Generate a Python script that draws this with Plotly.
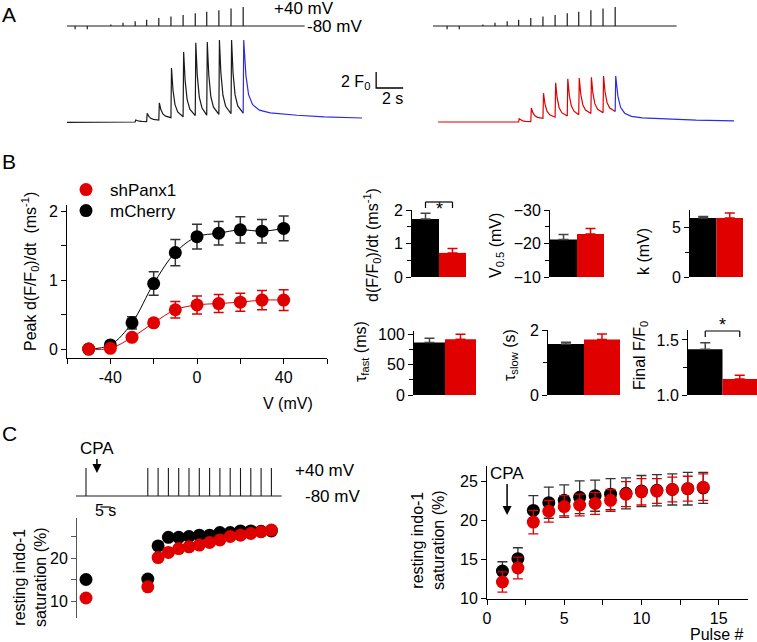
import plotly.graph_objects as go

W, H = 757, 642
FONT = "Liberation Sans, Arial, sans-serif"
BLACK = "#000000"
RED = "#e00000"
BLUE = "#2b2be8"
DARK = "#1a1a1a"

### A: pulse protocol (s, mV) and fluo-4 traces (F/F0)
pulse_t = [0.6, 1.5, 3.25, 4.15, 5.05, 5.9, 6.8, 7.7, 8.6, 9.5, 10.35, 11.25, 12.15, 13.05]
pulse_mv = [-100, -100, -70, -60, -50, -40, -30, -20, -10, 0, 10, 20, 30, 40]
hold_mv = -80
volt_end = 17.6

ctl_first = 4
ctl_peak = [1.25, 2.1, 3.4, 7.75, 9.75, 10.9, 11.0, 11.25, 11.25, 11.25]
ctl_base = [1.0, 1.05, 1.25, 1.55, 1.65, 1.8, 1.85, 1.95, 2.05, 2.1]
ctl_end = 1.5
kd_first = 5
kd_peak = [1.4, 2.75, 4.6, 5.9, 6.4, 6.5, 6.6, 6.75, 6.75]
kd_base = [1.0, 1.05, 1.45, 1.6, 1.75, 1.9, 2.05, 2.15, 2.3]
kd_end = 1.15

# decay of a transient (s after pulse, fraction left)
spike_dt = [0.04, 0.15, 0.3, 0.5]
spike_frac = [1.0, 0.55, 0.25, 0.1]
tail_dt = [0.04, 0.2, 0.4, 0.7, 1.2, 2.0, 4.0, 6.0, 8.8]
tail_frac = [1.0, 0.55, 0.3, 0.17, 0.1, 0.065, 0.035, 0.015, 0.0]

### B: peak d(F/F0)/dt vs V
volts = [-50, -40, -30, -20, -10, 0, 10, 20, 30, 40]
rate_ctl = [0.0, 0.06, 0.38, 0.95, 1.40, 1.63, 1.68, 1.73, 1.71, 1.75]
rate_ctl_err = [0.02, 0.03, 0.09, 0.17, 0.19, 0.18, 0.17, 0.19, 0.17, 0.18]
rate_kd = [0.0, 0.01, 0.17, 0.38, 0.57, 0.64, 0.66, 0.68, 0.71, 0.71]
rate_kd_err = [0.01, 0.02, 0.04, 0.05, 0.12, 0.13, 0.13, 0.13, 0.14, 0.15]

# bar summaries [mCherry, shPanx1]
peak_rate = [1.73, 0.72]
peak_rate_err = [0.17, 0.13]
v_half = [-21.2, -22.8]
v_half_err = [1.5, 1.7]
k_slope = [5.9, 5.9]
k_slope_err = [0.15, 0.5]
tau_fast = [87, 92.5]
tau_fast_err = [7, 8]
tau_slow = [1.57, 1.71]
tau_slow_err = [0.05, 0.17]
final_ff0 = [1.415, 1.145]
final_ff0_err = [0.06, 0.035]

### C: resting indo-1 saturation
c_time = [0, 30, 35, 40, 45, 50, 55, 60, 65, 70, 75, 80, 85, 90]
c_ctl = [15.0, 15.1, 22.8, 24.8, 24.8, 25.0, 25.3, 25.3, 25.9, 25.9, 26.3, 26.3, 26.2, 26.3]
c_kd = [10.7, 13.3, 20.1, 21.3, 22.2, 22.6, 23.0, 23.6, 24.2, 25.0, 25.3, 25.7, 26.1, 26.5]
cpa_time = 5.3
pulse_n = list(range(1, 15))
sat_ctl = [13.5, 15.1, 21.3, 22.3, 22.6, 23.0, 23.2, 23.4, 23.5, 23.8, 23.9, 24.0, 24.1, 24.2]
sat_ctl_err = [1.2, 1.4, 1.9, 2.0, 2.0, 2.1, 2.0, 2.0, 2.0, 2.0, 2.0, 2.0, 2.1, 2.0]
sat_kd = [12.1, 13.9, 19.8, 21.2, 21.8, 22.0, 22.2, 22.6, 23.4, 23.7, 23.8, 24.0, 24.1, 24.3]
sat_kd_err = [1.3, 1.4, 1.5, 1.4, 1.4, 1.4, 1.4, 1.4, 1.6, 1.7, 1.6, 1.6, 1.6, 1.7]
cpa_pulse = 1.3


def pdx(px):
    return px / W


def pdy(py):
    return 1 - py / H


layout = dict(template="none", width=W, height=H, margin=dict(l=0, r=0, t=0, b=0, pad=0),
              paper_bgcolor="white", plot_bgcolor="rgba(0,0,0,0)",
              font=dict(family=FONT, size=16, color="black"))
annotations = []
shapes = []
fig = go.Figure()


def refs(n):
    return ("x", "y") if n == 1 else ("x%d" % n, "y%d" % n)


def add_axes(n, x0, x1, y0, y1, xkw, ykw):
    xr, yr = refs(n)
    xa = dict(domain=[pdx(x0), pdx(x1)], anchor=yr, showgrid=False, zeroline=False, automargin=False)
    ya = dict(domain=[pdy(y1), pdy(y0)], anchor=xr, showgrid=False, zeroline=False, automargin=False)
    xa.update(xkw)
    ya.update(ykw)
    layout["xaxis" if n == 1 else "xaxis%d" % n] = xa
    layout["yaxis" if n == 1 else "yaxis%d" % n] = ya


def axis_line(**kw):
    d = dict(visible=True, showline=True, linecolor="black", linewidth=1,
             ticks="outside", ticklen=5, tickcolor="black", tickwidth=1,
             tickfont=dict(size=16, family=FONT, color="black"))
    d.update(kw)
    return d


def txt(x, y, s, size=16, xanchor="center", angle=0, color="black"):
    annotations.append(dict(x=pdx(x), y=pdy(y), xref="paper", yref="paper", text=s,
                            showarrow=False, xanchor=xanchor, yanchor="middle",
                            textangle=angle, font=dict(size=size, family=FONT, color=color)))


def volt_xy(t_start):
    xs = [t_start, volt_end, None]
    ys = [hold_mv, hold_mv, None]
    for t, v in zip(pulse_t, pulse_mv):
        xs += [t, t, None]
        ys += [hold_mv, v, None]
    return xs, ys


def fluo_xy(t_start, y_start, first, peaks, bases, end):
    xs, ys = [t_start], [y_start]
    for i, pk in enumerate(peaks):
        t0 = pulse_t[first + i]
        xs.append(t0)
        ys.append(bases[i])
        if i + 1 < len(peaks):
            nxt = bases[i + 1]
            for dt, f in zip(spike_dt, spike_frac):
                xs.append(t0 + dt)
                ys.append(nxt + f * (pk - nxt))
    t0 = pulse_t[first + len(peaks) - 1]
    tx = [t0] + [t0 + dt for dt in tail_dt]
    ty = [bases[-1]] + [end + f * (peaks[-1] - end) for f in tail_frac]
    return xs, ys, tx, ty


### ---- A
hidden = dict(visible=False)
t_rng_left = [(61 - 67) / 13.5, (410 - 67) / 13.5]
t_rng_right = [(61 - 67) / 13.5, (757 - 372 - 67) / 13.5]
add_axes(1, 61, 410, 5, 31, dict(hidden, range=t_rng_left), dict(hidden, range=[-111.6, 52.6]))
add_axes(2, 61, 410, 35, 128, dict(hidden, range=t_rng_left), dict(hidden, range=[0.25, 11.875]))
add_axes(3, 433, 757, 5, 31, dict(hidden, range=t_rng_right), dict(hidden, range=[-111.6, 52.6]))
add_axes(4, 433, 757, 35, 128, dict(hidden, range=t_rng_right), dict(hidden, range=[0.25, 11.875]))

for n, t_start in [(1, 0.0), (3, -0.444)]:
    xr, yr = refs(n)
    vx, vy = volt_xy(t_start)
    fig.add_trace(go.Scatter(x=vx, y=vy, mode="lines", line=dict(color=DARK, width=1.2),
                             xaxis=xr, yaxis=yr, showlegend=False, hoverinfo="skip"))

for n, col, args in [(2, DARK, (0.0, 0.95, ctl_first, ctl_peak, ctl_base, ctl_end)),
                     (4, RED, (-0.07, 1.0, kd_first, kd_peak, kd_base, kd_end))]:
    xr, yr = refs(n)
    fx, fy, tx, ty = fluo_xy(*args)
    fig.add_trace(go.Scatter(x=fx, y=fy, mode="lines", line=dict(color=col, width=1.2),
                             xaxis=xr, yaxis=yr, showlegend=False, hoverinfo="skip"))
    fig.add_trace(go.Scatter(x=tx, y=ty, mode="lines", line=dict(color=BLUE, width=1.2),
                             xaxis=xr, yaxis=yr, showlegend=False, hoverinfo="skip"))

# scale bar: 2 F0 / 2 s
bar_t0, bar_f0 = 22.9, 5.25
fig.add_trace(go.Scatter(x=[bar_t0, bar_t0, bar_t0 + 2], y=[bar_f0 + 2, bar_f0, bar_f0],
                         mode="lines", line=dict(color="black", width=1.3),
                         xaxis="x2", yaxis="y2", showlegend=False, hoverinfo="skip"))
txt(372, 82, "2 F<sub>0</sub>", 16, "right")
txt(393, 99, "2 s", 16)
txt(272, 9, "+40 mV", 17, "left")
txt(305, 26, "-80 mV", 17, "left")
txt(0, 15, "A", 21, "left")

### ---- B
add_axes(5, 67, 327, 205, 358,
         axis_line(range=[-60, 60], tickvals=[-40, 0, 40], ticktext=["-40", "0", "40"],
                   minor=dict(tick0=-60, dtick=20, ticks="outside", ticklen=5, tickcolor="black")),
         axis_line(range=[-0.13, 2.09], tickvals=[0, 1, 2],
                   minor=dict(tick0=0, dtick=0.5, ticks="outside", ticklen=5, tickcolor="black")))
for vals, errs, col, ecol, name, lg in [(rate_ctl, rate_ctl_err, BLACK, "#333333", "mCherry", "legend2"),
                                        (rate_kd, rate_kd_err, RED, RED, "shPanx1", "legend")]:
    fig.add_trace(go.Scatter(x=volts, y=vals, mode="lines", line=dict(color=col, width=1, shape="spline"),
                             xaxis="x5", yaxis="y5", showlegend=False, hoverinfo="skip"))
    fig.add_trace(go.Scatter(x=volts, y=vals, mode="markers", name=name, legend=lg,
                             marker=dict(color=col, size=13),
                             error_y=dict(type="data", array=errs, color=ecol, thickness=1.5, width=5),
                             xaxis="x5", yaxis="y5", cliponaxis=False))
leg = dict(xanchor="left", yanchor="middle", font=dict(size=17, family=FONT),
           bgcolor="rgba(0,0,0,0)", itemwidth=38, itemsizing="trace")
layout["legend"] = dict(leg, x=pdx(62), y=pdy(190))
layout["legend2"] = dict(leg, x=pdx(62), y=pdy(211))
layout["showlegend"] = True
txt(30, 272, "Peak d(F/F<sub>0</sub>)/dt  (ms<sup>-1</sup>)", 16, angle=-90)
txt(288, 403, "V (mV)", 16)
txt(0, 162, "B", 21, "left")

### ---- B bar summaries
bar_x = [0, 1]
bar_cols = [BLACK, RED]
err_cols = ["#444444", RED]
panels = [
    (6, (412, 466, 210, 277), peak_rate, peak_rate_err, dict(range=[0, 2], tickvals=[0, 1, 2],
     minor=dict(dtick=0.5, ticks="outside", ticklen=4, tickcolor="black")), 0),
    (7, (550, 604, 210, 277), v_half, v_half_err, dict(range=[-10, -30], tickvals=[-30, -20, -10],
     minor=dict(dtick=5, ticks="outside", ticklen=4, tickcolor="black")), -10),
    (8, (690, 743, 210, 277), k_slope, k_slope_err, dict(range=[0, 6.7], tickvals=[0, 5],
     minor=dict(dtick=2.5, ticks="outside", ticklen=4, tickcolor="black")), 0),
    (9, (414, 476, 331, 395), tau_fast, tau_fast_err, dict(range=[0, 106], tickvals=[0, 50, 100],
     minor=dict(dtick=25, ticks="outside", ticklen=4, tickcolor="black")), 0),
    (10, (548, 620, 330, 395), tau_slow, tau_slow_err, dict(range=[0, 2], tickvals=[0, 2],
     minor=dict(dtick=1, ticks="outside", ticklen=4, tickcolor="black")), 0),
    (11, (688, 757, 330, 395), final_ff0, final_ff0_err, dict(range=[1.0, 1.59], tickvals=[1.0, 1.5],
     tickformat=".1f", minor=dict(dtick=0.25, ticks="outside", ticklen=4, tickcolor="black")), None),
]
for n, (x0, x1, y0, y1), vals, errs, ykw, base in panels:
    xr, yr = refs(n)
    add_axes(n, x0, x1, y0, y1, dict(visible=False, range=[-0.5, 1.5]), axis_line(**ykw))
    if base:
        fig.add_trace(go.Bar(x=bar_x, y=[v - base for v in vals], base=base, width=1,
                             marker=dict(color=bar_cols, line=dict(width=0)),
                             xaxis=xr, yaxis=yr, showlegend=False, hoverinfo="skip"))
    else:
        fig.add_trace(go.Bar(x=bar_x, y=vals, width=1, marker=dict(color=bar_cols, line=dict(width=0)),
                             xaxis=xr, yaxis=yr, showlegend=False, hoverinfo="skip"))
    for i in range(2):
        up, down = ([0], [errs[i]]) if base == -10 else ([errs[i]], [0])
        fig.add_trace(go.Scatter(x=[bar_x[i]], y=[vals[i]], mode="markers",
                                 marker=dict(size=2, opacity=0),
                                 error_y=dict(type="data", symmetric=False, array=up, arrayminus=down,
                                              color=err_cols[i], thickness=1.5, width=5),
                                 xaxis=xr, yaxis=yr, showlegend=False, hoverinfo="skip"))


def bracket(xref, top, leg, star_y):
    ln = dict(color="black", width=1.2)
    shapes.append(dict(type="line", xref=xref, yref="paper", x0=0, x1=1, y0=pdy(top), y1=pdy(top), line=ln))
    shapes.append(dict(type="line", xref=xref, yref="paper", x0=0, x1=0, y0=pdy(top), y1=pdy(top + leg), line=ln))
    shapes.append(dict(type="line", xref=xref, yref="paper", x0=1, x1=1, y0=pdy(top), y1=pdy(top + leg), line=ln))
    annotations.append(dict(x=0.5, y=pdy(star_y), xref=xref, yref="paper", text="*", showarrow=False,
                            font=dict(size=18, family=FONT, color="black")))


bracket("x6", 202, 6, 197)
bracket("x11", 331, 6, 325)

txt(372, 245, "d(F/F<sub>0</sub>)/dt (ms<sup>-1</sup>)", 16, angle=-90)
txt(497, 246, "V<sub>0.5</sub> (mV)", 16, angle=-90)
txt(643, 252, "k (mV)", 16, angle=-90)
txt(362, 352, "τ<sub>fast</sub> (ms)", 16, angle=-90)
txt(510, 355, "τ<sub>slow</sub> (s)", 16, angle=-90)
txt(641, 356, "Final F/F<sub>0</sub>", 16, angle=-90)

### ---- C left: protocol + example cell
c_rng = [(70 - 86) / 2.06, (300 - 86) / 2.06]
add_axes(12, 70, 300, 466, 498, dict(hidden, range=c_rng), dict(hidden, range=[-88.6, 48.6]))
px, py = [c_time[0] - 4.9, c_time[-1] + 5, None], [hold_mv, hold_mv, None]
for t in c_time:
    px += [t, t, None]
    py += [hold_mv, 40, None]
fig.add_trace(go.Scatter(x=px, y=py, mode="lines", line=dict(color=DARK, width=1.1),
                         xaxis="x12", yaxis="y12", showlegend=False, hoverinfo="skip"))

add_axes(13, 70, 300, 518, 618, dict(hidden, range=c_rng),
         axis_line(range=[6.05, 29.3], tickvals=[10, 20], anchor="free", position=pdx(76),
                   linecolor="#555555", tickcolor="#555555",
                   minor=dict(dtick=5, ticks="outside", ticklen=5, tickcolor="#555555")))
for vals, col in [(c_ctl, BLACK), (c_kd, RED)]:
    fig.add_trace(go.Scatter(x=c_time, y=vals, mode="markers", marker=dict(color=col, size=13),
                             xaxis="x13", yaxis="y13", showlegend=False, cliponaxis=False, hoverinfo="skip"))

annotations.append(dict(x=cpa_time, y=pdy(473), xref="x12", yref="paper", text="CPA", showarrow=True,
                        ax=0, ay=-25, arrowhead=2, arrowsize=1.2, arrowwidth=1.5, arrowcolor="black",
                        font=dict(size=17, family=FONT, color="black")))
shapes.append(dict(type="line", xref="x12", yref="paper", x0=7, x1=12, y0=pdy(507), y1=pdy(507),
                   line=dict(color="black", width=1.2)))
annotations.append(dict(x=9.5, y=pdy(521), xref="x12", yref="paper", text="5 s", showarrow=False,
                        font=dict(size=16, family=FONT, color="black")))
txt(293, 470, "+40 mV", 17, "left")
txt(303, 496, "-80 mV", 17, "left")
txt(30, 577, "resting indo-1<br>saturation (%)", 16, angle=-90)
txt(0, 433, "C", 21, "left")

### ---- C right: averages
add_axes(14, 487, 748, 466, 599,
         axis_line(range=[0, 16.9], tickvals=[0, 5, 10, 15],
                   minor=dict(dtick=2.5, ticks="outside", ticklen=5, tickcolor="black")),
         axis_line(range=[9.91, 27.02], tickvals=[10, 15, 20, 25]))
for vals, errs, col, ecol in [(sat_ctl, sat_ctl_err, BLACK, "#333333"), (sat_kd, sat_kd_err, RED, RED)]:
    fig.add_trace(go.Scatter(x=pulse_n, y=vals, mode="markers", marker=dict(color=col, size=13),
                             error_y=dict(type="data", array=errs, color=ecol, thickness=1.3, width=5),
                             xaxis="x14", yaxis="y14", showlegend=False, cliponaxis=False, hoverinfo="skip"))
annotations.append(dict(x=cpa_pulse, y=pdy(515), xref="x14", yref="paper", text="CPA", showarrow=True,
                        ax=0, ay=-42, arrowhead=2, arrowsize=1.2, arrowwidth=1.5, arrowcolor="black",
                        font=dict(size=17, family=FONT, color="black")))
txt(428, 540, "resting indo-1<br>saturation (%)", 16, angle=-90)
txt(745, 634, "Pulse #", 16, "right")

layout["annotations"] = annotations
layout["shapes"] = shapes
fig.update_layout(**layout)
# the page's default body margin would shift the figure by 8 px
fig.write_html("out.html", config={"displayModeBar": False},
               post_script="document.body.style.margin='0';")
